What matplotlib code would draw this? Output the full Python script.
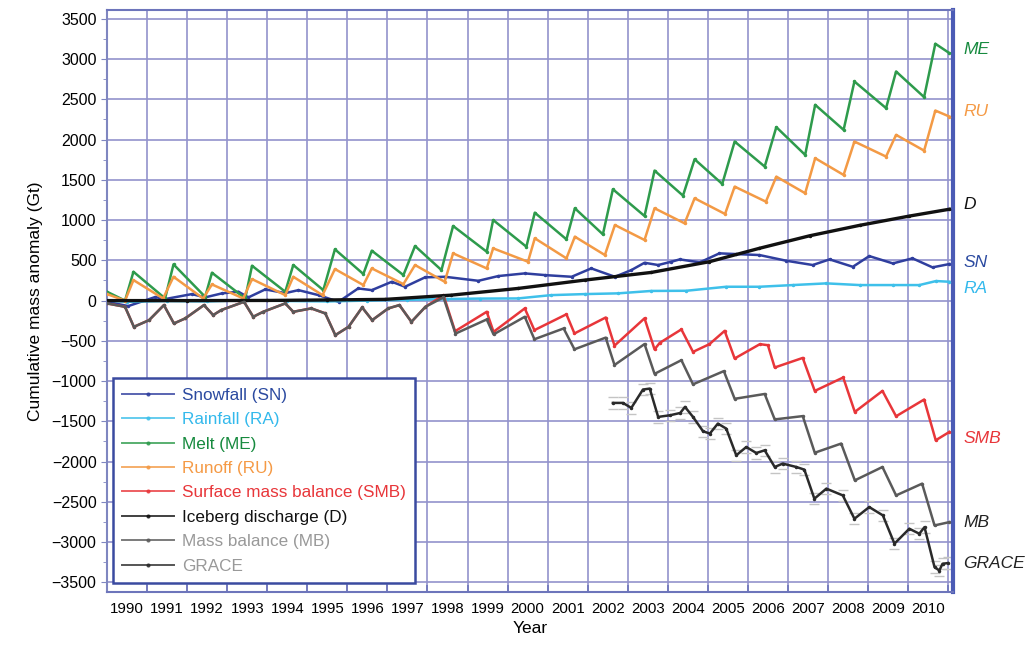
import matplotlib
matplotlib.use("Agg")
import matplotlib.pyplot as plt
from matplotlib.lines import Line2D
from matplotlib.ticker import MultipleLocator, FixedLocator, NullFormatter

plt.rcParams["font.family"] = ["Liberation Sans", "DejaVu Sans"]

# ---- data (decimal year, Gt) ----
me_years = [1990.0, 1990.45, 1990.66, 1991.45, 1991.66, 1992.45, 1992.62, 1993.45, 1993.62,
            1994.45, 1994.65, 1995.4, 1995.69, 1996.4, 1996.61, 1997.4, 1997.69, 1998.35,
            1998.64, 1999.48, 1999.64, 2000.47, 2000.68, 2001.47, 2001.68, 2002.38, 2002.63,
            2003.42, 2003.67, 2004.38, 2004.67, 2005.36, 2005.67, 2006.42, 2006.71, 2007.43,
            2007.68, 2008.39, 2008.66, 2009.45, 2009.7, 2010.4, 2010.68, 2011.03]
me_vals = [110, 0, 358, 27, 450, 47, 346, 27, 433, 110, 442, 130, 637, 330, 620, 317, 678, 379,
           927, 607, 1001, 669, 1092, 761, 1147, 823, 1383, 1051, 1615, 1304, 1756, 1449, 1976,
           1665, 2155, 1810, 2432, 2121, 2722, 2391, 2846, 2528, 3191, 3075]

ru_years = [1990.0, 1990.45, 1990.66, 1991.4, 1991.66, 1992.4, 1992.62, 1993.4, 1993.62,
            1994.45, 1994.65, 1995.38, 1995.69, 1996.4, 1996.61, 1997.4, 1997.69, 1998.43,
            1998.64, 1999.48, 1999.64, 2000.51, 2000.68, 2001.47, 2001.68, 2002.43, 2002.68,
            2003.42, 2003.67, 2004.42, 2004.67, 2005.43, 2005.67, 2006.45, 2006.71, 2007.43,
            2007.68, 2008.39, 2008.66, 2009.45, 2009.7, 2010.4, 2010.68, 2011.03]
ru_vals = [81, 0, 255, 27, 296, 27, 201, 27, 267, 68, 296, 68, 392, 193, 400, 205, 442, 234,
           587, 400, 649, 483, 774, 525, 794, 566, 939, 753, 1147, 960, 1271, 1076, 1416, 1229,
           1540, 1334, 1769, 1561, 1976, 1789, 2059, 1863, 2361, 2287]

sn_years = [1990.0, 1990.53, 1991.2, 1991.45, 1992.12, 1992.45, 1992.87, 1993.28, 1993.53,
            1993.95, 1994.45, 1994.78, 1995.28, 1995.78, 1996.27, 1996.61, 1997.11, 1997.44,
            1997.94, 1998.44, 1999.27, 1999.77, 2000.43, 2000.93, 2001.6, 2002.09, 2002.68,
            2003.09, 2003.42, 2003.76, 2004.09, 2004.3, 2004.8, 2005.29, 2005.71, 2006.29,
            2006.96, 2007.62, 2008.04, 2008.62, 2009.03, 2009.62, 2010.11, 2010.61, 2011.03]
sn_vals = [-15, -68, 44, 19, 81, 40, 90, 110, 40, 139, 93, 130, 68, -15, 151, 130, 234, 172,
           289, 296, 246, 305, 338, 317, 296, 400, 296, 379, 470, 442, 483, 512, 475, 587, 578,
           566, 495, 442, 512, 420, 553, 462, 525, 413, 454]

ra_years = [1990.0, 1990.5, 1991.5, 1992.5, 1993.5, 1994.5, 1995.5, 1996.5, 1997.5, 1998.5,
            1999.3, 2000.26, 2001.09, 2001.93, 2002.76, 2003.59, 2004.46, 2005.46, 2006.29,
            2007.12, 2007.96, 2008.79, 2009.62, 2010.28, 2010.7, 2011.03]
ra_vals = [0, -15, -5, -10, 5, -5, -10, 0, 10, 20, 25, 27, 68, 81, 90, 120, 122, 172, 172, 193,
           214, 193, 193, 193, 243, 234]

d_years = [1990.0, 1992.0, 1994.0, 1995.5, 1996.94, 1998.6, 2000.26, 2001.93, 2003.59,
           2005.04, 2006.29, 2007.54, 2008.79, 2010.03, 2011.03]
d_vals = [0, 0, 2, 8, 15, 68, 151, 255, 350, 483, 650, 805, 935, 1050, 1135]

# SMB and MB coincide before 1998 (discharge anomaly ~0)
early_years = [1990.0, 1990.45, 1990.67, 1991.05, 1991.42, 1991.67, 1991.95, 1992.42, 1992.65,
               1992.85, 1993.42, 1993.65, 1993.9, 1994.45, 1994.65, 1995.1, 1995.45, 1995.7,
               1996.03, 1996.37, 1996.62, 1997.02, 1997.3, 1997.6, 1997.95, 1998.4]
early_vals = [-35, -77, -326, -243, -56, -284, -222, -56, -180, -118, -15, -201, -139, -35,
              -139, -97, -159, -429, -326, -85, -243, -97, -56, -264, -77, 68]

smb_years = early_years + [1998.69, 1999.48, 1999.65, 2000.43, 2000.67, 2001.47, 2001.67,
                           2002.45, 2002.67, 2003.42, 2003.67, 2003.8, 2004.34, 2004.63, 2005.04,
                           2005.42, 2005.67, 2006.3, 2006.5, 2006.67, 2007.37, 2007.67, 2008.38,
                           2008.67, 2009.36, 2009.7, 2010.4, 2010.69, 2011.03]
smb_vals = early_vals + [-380, -139, -388, -97, -367, -170, -408, -210, -560, -220, -606, -525,
                         -358, -637, -541, -376, -719, -541, -554, -831, -712, -1122, -955,
                         -1383, -1122, -1437, -1229, -1735, -1632]

mb_years = early_years + [1998.7, 1999.48, 1999.65, 2000.43, 2000.67, 2001.4, 2001.67, 2002.45,
                          2002.67, 2003.42, 2003.67, 2004.34, 2004.63, 2005.4, 2005.67, 2006.42,
                          2006.67, 2007.37, 2007.67, 2008.33, 2008.67, 2009.36, 2009.7, 2010.35,
                          2010.66, 2011.03]
mb_vals = early_vals[:-1] + [40] + [-410, -234, -420, -201, -480, -346, -605, -460, -800, -540,
                                    -910, -740, -1040, -876, -1220, -1160, -1476, -1435, -1890,
                                    -1776, -2233, -2067, -2420, -2274, -2793, -2752]

grace_years = [2002.63, 2002.88, 2003.09, 2003.38, 2003.55, 2003.76, 2004.06, 2004.31, 2004.43,
               2004.63, 2004.88, 2005.05, 2005.25, 2005.46, 2005.71, 2005.96, 2006.21, 2006.42,
               2006.67, 2006.87, 2007.21, 2007.41, 2007.66, 2007.96, 2008.37, 2008.66, 2009.03,
               2009.37, 2009.66, 2010.03, 2010.28, 2010.41, 2010.66, 2010.78, 2010.86, 2010.99]
grace_vals = [-1271, -1271, -1333, -1105, -1093, -1445, -1424, -1396, -1321, -1445, -1623, -1652,
              -1528, -1590, -1922, -1819, -1893, -1860, -2067, -2025, -2067, -2100, -2461, -2336,
              -2420, -2710, -2565, -2668, -3020, -2834, -2896, -2814, -3311, -3353, -3269, -3261]
grace_err = 70

year_labels = [str(y) for y in range(1990, 2011)]

# label, x, y, line colour, text colour, end tag, tag y position
series = [
    ("Snowfall (SN)", sn_years, sn_vals, "#2f3e9e", "#2b4aa0", "SN", 479),
    ("Rainfall (RA)", ra_years, ra_vals, "#3ec0ea", "#33b9ec", "RA", 155),
    ("Melt (ME)", me_years, me_vals, "#2e9b4c", "#168a3e", "ME", 3116),
    ("Runoff (RU)", ru_years, ru_vals, "#f39a45", "#f59a45", "RU", 2345),
    ("Surface mass balance (SMB)", smb_years, smb_vals, "#e8363a", "#e8363a", "SMB", -1710),
    ("Iceberg discharge (D)", d_years, d_vals, "#111111", "#111111", "D", 1188),
    ("Mass balance (MB)", mb_years, mb_vals, "#5a5a5a", "#999999", "MB", -2755),
    ("GRACE", grace_years, grace_vals, "#2a2a2a", "#999999", "GRACE", -3265),
]

fig = plt.figure(figsize=(10.32, 6.46), dpi=100)
ax = fig.add_axes([0.1037, 0.0836, 0.8197, 0.9009])

# GRACE uncertainty dashes
gy = [v + grace_err for v in grace_vals] + [v - grace_err for v in grace_vals]
ax.plot(grace_years + grace_years, gy, linestyle="none", marker="_", markersize=7,
        color="#c4c4c4", zorder=2)

handles = []
for label, xs, ys, col, tcol, short, ly in series:
    lw = 2.4 if short == "D" else 1.8
    ax.plot(xs, ys, color=col, lw=lw, marker=".", markersize=3, zorder=3)
    handles.append(Line2D([], [], color=col, lw=1.4, alpha=0.8, marker=".", markersize=4,
                          label=label))
    ax.text(2011.38, ly, short, color=tcol if short not in ("MB", "GRACE") else "#222222",
            fontsize=12.5, style="italic", va="center", ha="left", clip_on=False)

ax.set_xlim(1990, 2011.12)
ax.set_ylim(-3620, 3610)

ax.xaxis.set_major_locator(FixedLocator(range(1990, 2012)))
ax.xaxis.set_major_formatter(NullFormatter())
ax.xaxis.set_minor_locator(FixedLocator([y + 0.5 for y in range(1990, 2011)]))
ax.set_xticklabels(year_labels, minor=True)
ax.tick_params(axis="x", which="major", direction="in", length=5, color="#6d75bb", width=1.2)
ax.tick_params(axis="x", which="minor", length=0, labelsize=10.8, pad=7)

ax.yaxis.set_major_locator(MultipleLocator(500))
ax.yaxis.set_minor_locator(MultipleLocator(250))
ax.tick_params(axis="y", which="major", length=4, color="#7f86c0", labelsize=11.5)
ax.tick_params(axis="y", which="minor", length=3, color="#7f86c0")

ax.grid(True, which="major", color="#9292cc", lw=1.2)
ax.set_axisbelow(True)

ax.spines["left"].set_color("#7f86c0")
ax.spines["left"].set_linewidth(1.5)
ax.spines["top"].set_color("#6d75bb")
ax.spines["top"].set_linewidth(1.5)
ax.spines["bottom"].set_color("#6d75bb")
ax.spines["bottom"].set_linewidth(1.5)
ax.spines["right"].set_color("#4b5bb5")
ax.spines["right"].set_linewidth(3)

ax.set_xlabel("Year", fontsize=12.5, labelpad=4)
ax.set_ylabel("Cumulative mass anomaly (Gt)", fontsize=12.5, labelpad=6)

leg = ax.legend(handles=handles, loc="lower left", bbox_to_anchor=(0.1095, 0.0975),
                bbox_transform=fig.transFigure, borderaxespad=0, fontsize=12.3,
                handlelength=3.0, handletextpad=0.5, labelspacing=0.55, borderpad=0.55,
                fancybox=False, framealpha=1, edgecolor="#3a4aa0")
leg.get_frame().set_linewidth(1.8)
for t, s in zip(leg.get_texts(), series):
    t.set_color(s[4])

fig.savefig("out.png", dpi=100)
